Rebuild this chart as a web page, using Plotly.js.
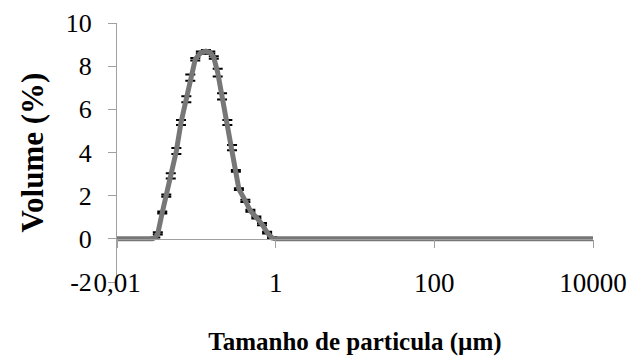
<!DOCTYPE html>
<html>
<head>
<meta charset="utf-8">
<script src="https://cdn.plot.ly/plotly-3.0.1.min.js"></script>
<style>html,body{margin:0;padding:0;background:#fff;}#chart{width:631px;height:356px;}</style>
</head>
<body>
<div id="chart"></div>
<script>
// Particle size (µm) and volume (%)
const particleSize = [0.01, 0.0279, 0.0304, 0.0327, 0.0372, 0.0418, 0.0476, 0.0560, 0.0641, 0.0748, 0.0839, 0.0970,
  0.114, 0.132, 0.150, 0.166, 0.186, 0.211, 0.246, 0.282, 0.315, 0.344, 0.415, 0.480, 0.571, 0.673,
  0.780, 0.902, 1.0, 1.1, 10000];
const volume = [0, 0, 0.06, 0.25, 1.22, 2.0, 2.92, 4.07, 5.39, 6.47, 7.47, 8.32,
  8.63, 8.7, 8.63, 8.4, 7.7, 6.6, 5.39, 4.23, 3.15, 2.3, 1.76, 1.3, 0.99, 0.68,
  0.29, 0.04, 0.0, 0, 0];
const volumeError = [0, null, null, 0.05, 0.05, 0.05, 0.12, 0.14, 0.12, 0.14, 0.14, 0.06,
  0.05, 0.05, 0.05, 0.06, 0.18, 0.14, 0.12, 0.12, 0.04, 0.04, 0.05, 0.05, 0.05, 0.05,
  0.04, 0.04, null, null, null];
const xTickVals = [0.01, 1, 100, 10000];
const xTickText = ['0,01', '1', '100', '10000'];
const yTickVals = [-2, 0, 2, 4, 6, 8, 10];
const yTickText = ['-2', '0', '2', '4', '6', '8', '10'];

const serif = 'Liberation Serif, Times New Roman, serif';

const trace = {
  x: particleSize,
  y: volume,
  type: 'scatter',
  mode: 'lines',
  line: {color: '#777777', width: 5},
  cliponaxis: false,
  error_y: {type: 'data', array: volumeError, visible: true, color: '#000', thickness: 2, width: 5}
};

const layout = {
  width: 631, height: 356,
  margin: {l: 117, r: 38, t: 23, b: 74, pad: 0},
  paper_bgcolor: '#fff', plot_bgcolor: '#fff',
  showlegend: false,
  font: {family: serif, color: '#000'},
  xaxis: {
    type: 'log', range: [-2, 4], anchor: 'free', position: 2 / 12,
    showline: true, linecolor: '#a0a0a0', linewidth: 1,
    ticks: 'outside', ticklen: 8, tickcolor: '#a0a0a0',
    tickvals: xTickVals, showticklabels: false,
    showgrid: false, zeroline: false
  },
  xaxis2: {
    type: 'log', range: [-2, 4], overlaying: 'x', anchor: 'free', position: 0.07, side: 'bottom',
    showline: false, ticks: '', tickvals: xTickVals, ticktext: xTickText,
    tickfont: {family: serif, size: 27, color: '#000'},
    showgrid: false, zeroline: false,
    title: {text: '<b>Tamanho de particula (µm)</b>', font: {family: serif, size: 25, color: '#000'}, standoff: 46}
  },
  yaxis: {
    range: [-2, 10], tickvals: yTickVals, ticktext: yTickText,
    showline: true, linecolor: '#a0a0a0', linewidth: 1,
    ticks: 'outside', ticklen: 8, tickcolor: '#a0a0a0',
    ticklabelstandoff: 11,
    tickfont: {family: serif, size: 26, color: '#000'},
    showgrid: false, zeroline: false,
    title: {text: '<b>Volume (%)</b>', font: {family: serif, size: 31, color: '#000'}, standoff: 12}
  }
};

const dummy = {x: [0.01], y: [null], xaxis: 'x2', yaxis: 'y', type: 'scatter', mode: 'lines', hoverinfo: 'skip'};

Plotly.newPlot('chart', [trace, dummy], layout, {displayModeBar: false, staticPlot: true});
</script>
</body>
</html>
